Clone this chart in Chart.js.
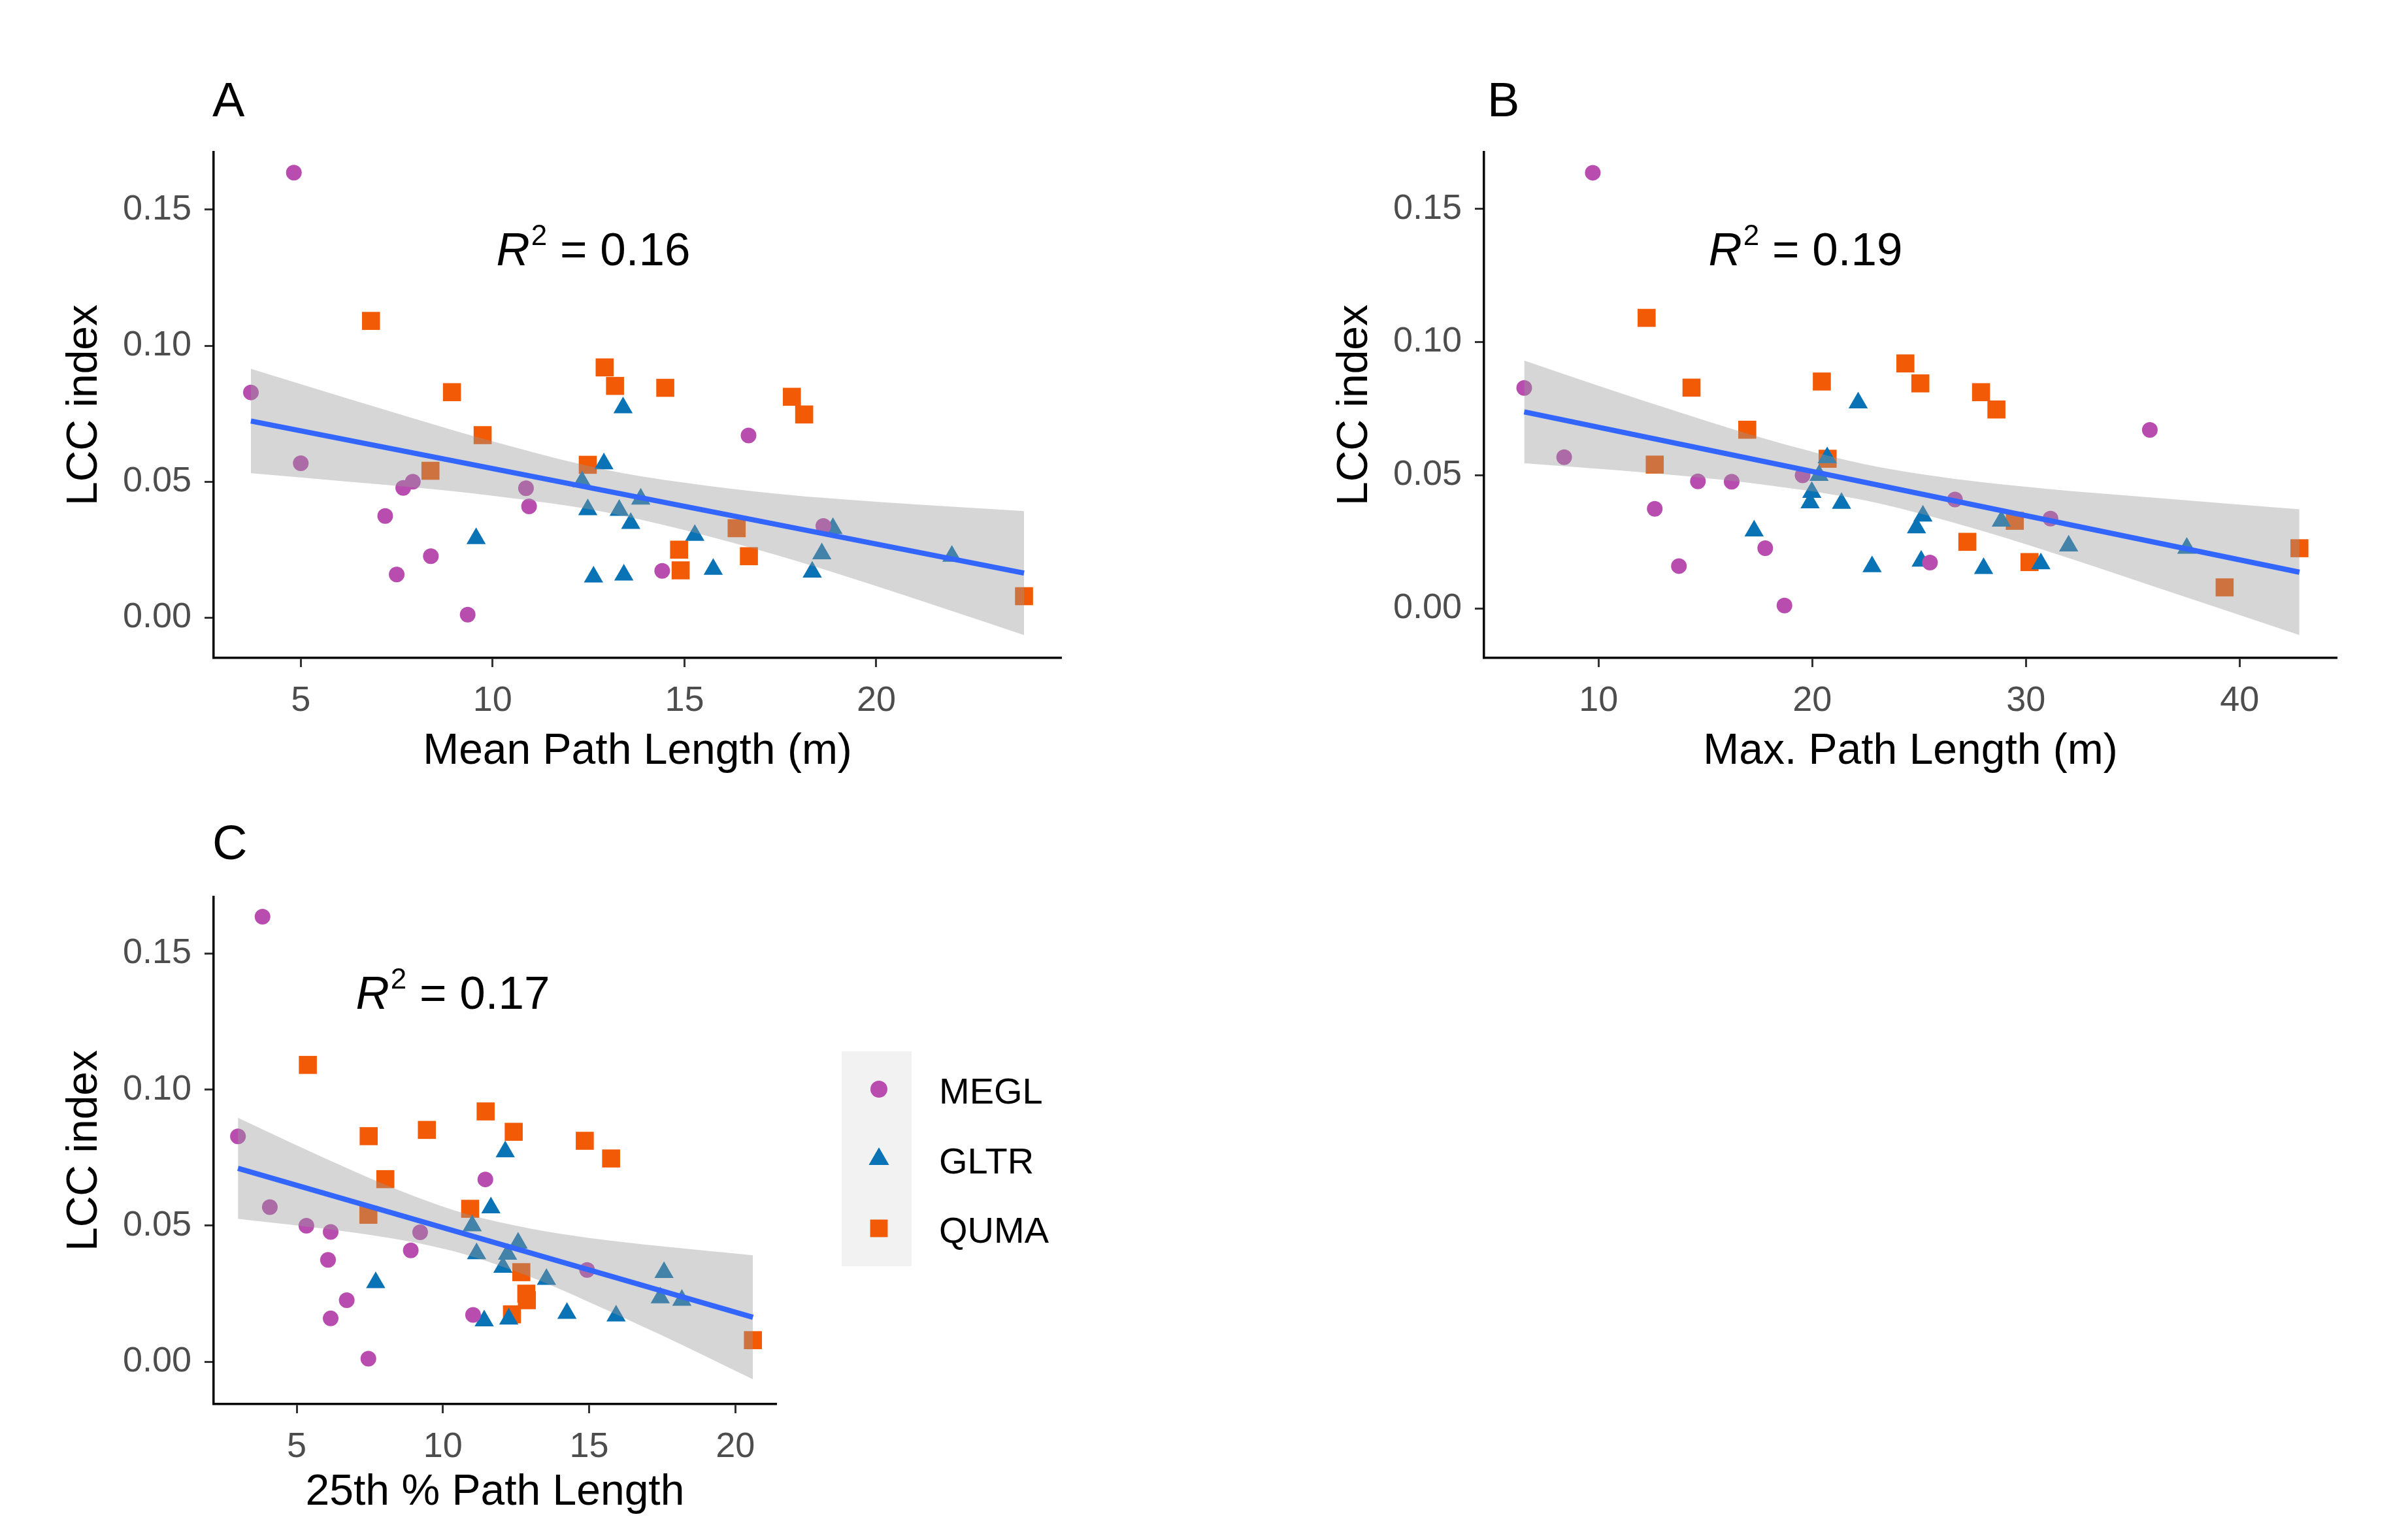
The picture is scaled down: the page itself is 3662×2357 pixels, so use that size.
<!DOCTYPE html>
<html>
<head>
<meta charset="utf-8">
<script src="https://cdn.jsdelivr.net/npm/chart.js@4.4.1/dist/chart.umd.min.js"></script>
<style>
  body { margin: 0; background: #fff; width: 3662px; height: 2357px; position: relative; overflow: hidden; }
  canvas { position: absolute; }
</style>
</head>
<body>
<canvas id="panelA" width="1664" height="1240" style="left:0px;top:0px"></canvas>
<canvas id="panelB" width="1672" height="1240" style="left:1944px;top:0px"></canvas>
<canvas id="panelC" width="1800" height="1117" style="left:0px;top:1240px"></canvas>
<script>
const FONT = '"Liberation Sans", Arial, sans-serif';

const speciesNames = ["MEGL", "GLTR", "QUMA"];
const speciesColors = ["#B94DAF", "#0A73B5", "#F25A05"];
const speciesShapes = ["circle", "triangle", "rect"];
const speciesRadius = [12, 17, 19.5];

// LCC index of each tree (same trees in every panel)
const lccMEGL = [0.1636, 0.0828, 0.0568, 0.0500, 0.0477, 0.0476, 0.0374, 0.0409, 0.0670, 0.0226, 0.0159, 0.0172, 0.0011, 0.0337];
const lccGLTR = [0.0772, 0.0566, 0.0500, 0.0436, 0.0397, 0.0395, 0.0347, 0.0291, 0.0150, 0.0157, 0.0303, 0.0178, 0.0168, 0.0235, 0.0328, 0.0226];
const lccQUMA = [0.1091, 0.0829, 0.0671, 0.0540, 0.0562, 0.0920, 0.0852, 0.0845, 0.0812, 0.0747, 0.0329, 0.0250, 0.0174, 0.0226, 0.0079];

// A: mean path length (m)
const meanMEGL = [4.82, 3.70, 5.00, 7.92, 7.67, 10.87, 7.20, 10.95, 16.67, 8.39, 7.50, 14.42, 9.35, 18.62];
const meanGLTR = [13.40, 12.90, 12.33, 13.86, 12.48, 13.30, 13.60, 9.57, 12.63, 13.42, 15.27, 15.75, 18.33, 18.58, 18.87, 21.97];
const meanQUMA = [6.83, 8.94, 9.74, 8.38, 12.48, 12.92, 13.19, 14.50, 17.80, 18.12, 16.36, 14.86, 14.90, 16.68, 23.85];

// B: max path length (m)
const maxMEGL = [9.73, 6.52, 8.39, 19.55, 14.65, 16.23, 12.63, 26.68, 35.80, 17.80, 13.76, 25.51, 18.70, 31.15];
const maxGLTR = [22.15, 20.70, 20.32, 19.98, 19.90, 21.37, 25.18, 17.28, 28.02, 22.80, 24.88, 25.10, 30.70, 32.00, 28.85, 37.53];
const maxQUMA = [12.25, 14.35, 16.96, 12.63, 20.72, 24.36, 20.45, 25.06, 27.90, 28.62, 29.48, 27.26, 30.17, 42.80, 39.30];

// C: 25th percentile path length
const p25MEGL = [3.83, 2.99, 4.08, 5.33, 6.16, 9.22, 6.07, 8.90, 11.45, 6.71, 6.16, 11.03, 7.45, 14.93];
const p25GLTR = [12.13, 11.64, 11.00, 12.57, 11.15, 12.21, 12.05, 7.70, 11.41, 12.25, 13.54, 14.24, 15.92, 17.43, 17.56, 18.17];
const p25QUMA = [5.38, 7.46, 8.03, 7.45, 10.93, 11.46, 9.45, 12.42, 14.85, 15.75, 12.68, 12.85, 12.36, 12.87, 20.60];

// fitted lines (end points) and confidence bands
const fitXA = [3.70, 23.85];
const fitYA = [0.0723, 0.0164];
const bandXA = [3.70, 6.0, 8.0, 10.0, 12.9, 15.0, 17.5, 20.0, 23.85];
const bandUpA = [0.0915, 0.0815, 0.0730, 0.0648, 0.0545, 0.0496, 0.0454, 0.0426, 0.0392];
const bandLoA = [0.0531, 0.0503, 0.0478, 0.0448, 0.0389, 0.0322, 0.0226, 0.0116, -0.0064];

const fitXB = [6.52, 42.80];
const fitYB = [0.0738, 0.0136];
const bandXB = [6.52, 10, 14, 18, 22.5, 27, 31, 36, 42.80];
const bandUpB = [0.0931, 0.0836, 0.0731, 0.0632, 0.0541, 0.0483, 0.0449, 0.0416, 0.0372];
const bandLoB = [0.0545, 0.0524, 0.0497, 0.0462, 0.0405, 0.0313, 0.0215, 0.0082, -0.0100];

const fitXC = [2.99, 20.60];
const fitYC = [0.0711, 0.0163];
const bandXC = [2.99, 5, 7, 9, 10.8, 13, 15, 17.5, 20.60];
const bandUpC = [0.0897, 0.0795, 0.0698, 0.0609, 0.0543, 0.0489, 0.0455, 0.0424, 0.0391];
const bandLoC = [0.0525, 0.0501, 0.0474, 0.0439, 0.0393, 0.0311, 0.0219, 0.0096, -0.0065];

const xTicksA = [5, 10, 15, 20];
const xTicksB = [10, 20, 30, 40];
const xTicksC = [5, 10, 15, 20];
const yTicks = [0, 0.05, 0.10, 0.15];

const lccAll = [lccMEGL, lccGLTR, lccQUMA];

function drawMarker(ctx, shape, x, y, r) {
  ctx.beginPath();
  if (shape === "circle") {
    ctx.arc(x, y, r, 0, Math.PI * 2);
  } else if (shape === "triangle") {
    for (let k = 0; k < 3; k++) {
      const a = -Math.PI / 2 + k * 2 * Math.PI / 3;
      const px = x + Math.cos(a) * r, py = y + Math.sin(a) * r;
      if (k === 0) ctx.moveTo(px, py); else ctx.lineTo(px, py);
    }
    ctx.closePath();
  } else {
    const s = r * Math.SQRT1_2;
    ctx.rect(x - s, y - s, 2 * s, 2 * s);
  }
  ctx.fill();
}

// panel letter, R^2 label and (panel C only) the legend
const panelText = {
  id: "panelText",
  afterDraw(chart, args, o) {
    const ctx = chart.ctx;
    ctx.save();
    ctx.fillStyle = "#000";
    ctx.textBaseline = "alphabetic";
    ctx.textAlign = "left";
    ctx.font = "74px " + FONT;
    ctx.fillText(o.tag, o.tagX, o.tagY);

    // R^2 = value
    const s = 71;
    ctx.font = "italic " + s + "px " + FONT;
    const wR = ctx.measureText("R").width;
    ctx.font = Math.round(s * 0.62) + "px " + FONT;
    const w2 = ctx.measureText("2").width;
    ctx.font = s + "px " + FONT;
    const rest = " = " + o.r2;
    const wRest = ctx.measureText(rest).width;
    let x = o.r2X - (wR + w2 + wRest) / 2;
    ctx.font = "italic " + s + "px " + FONT;
    ctx.fillText("R", x, o.r2Y);
    x += wR + 2;
    ctx.font = Math.round(s * 0.62) + "px " + FONT;
    ctx.fillText("2", x, o.r2Y - s * 0.44);
    x += w2;
    ctx.font = s + "px " + FONT;
    ctx.fillText(rest, x, o.r2Y);

    if (o.legend) {
      const L = o.legend;
      ctx.fillStyle = "#F2F2F2";
      ctx.fillRect(L.x, L.y, L.w, L.h);
      speciesNames.forEach((name, i) => {
        ctx.fillStyle = speciesColors[i];
        drawMarker(ctx, speciesShapes[i], L.markX, L.rows[i], [13, 18, 19][i]);
        ctx.fillStyle = "#000";
        ctx.font = "56px " + FONT;
        ctx.textBaseline = "middle";
        ctx.fillText(name, L.textX, L.rows[i] + 7);
      });
    }
    ctx.restore();
  }
};

function makePanel(id, p) {
  const datasets = speciesNames.map((name, i) => ({
    type: "scatter",
    label: name,
    data: p.xs[i].map((x, j) => ({ x: x, y: lccAll[i][j] })),
    pointStyle: speciesShapes[i],
    pointRadius: speciesRadius[i],
    pointHoverRadius: speciesRadius[i],
    backgroundColor: speciesColors[i],
    borderWidth: 0,
    order: 3
  }));
  datasets.push({
    type: "line",
    label: "ci upper",
    data: p.bandX.map((x, j) => ({ x: x, y: p.up[j] })),
    borderColor: "rgba(0,0,0,0)",
    borderWidth: 0,
    pointRadius: 0,
    cubicInterpolationMode: "monotone",
    fill: "+1",
    backgroundColor: "rgba(153,153,153,0.4)",
    order: 2
  });
  datasets.push({
    type: "line",
    label: "ci lower",
    data: p.bandX.map((x, j) => ({ x: x, y: p.lo[j] })),
    borderColor: "rgba(0,0,0,0)",
    borderWidth: 0,
    pointRadius: 0,
    cubicInterpolationMode: "monotone",
    fill: false,
    order: 2
  });
  datasets.push({
    type: "line",
    label: "fit",
    data: p.fitX.map((x, j) => ({ x: x, y: p.fitY[j] })),
    borderColor: "#3366FF",
    borderWidth: 8,
    pointRadius: 0,
    fill: false,
    order: 0
  });

  const tickGrid = { display: true, drawOnChartArea: false, drawTicks: true, tickLength: 14, tickWidth: 3, color: "#333333" };

  new Chart(document.getElementById(id), {
    type: "scatter",
    data: { datasets: datasets },
    plugins: [panelText],
    options: {
      responsive: false,
      animation: false,
      devicePixelRatio: 1,
      layout: { padding: { left: 0, top: p.padTop, right: p.padRight, bottom: 0 } },
      plugins: {
        legend: { display: false },
        tooltip: { enabled: false },
        panelText: p.text
      },
      scales: {
        x: {
          type: "linear",
          min: p.xMin,
          max: p.xMax,
          afterBuildTicks: (s) => { s.ticks = p.xTicks.map(v => ({ value: v })); },
          afterFit: (s) => { s.height = p.xAxisH; },
          grid: tickGrid,
          border: { display: true, color: "#000", width: 3.5 },
          ticks: { color: "#4D4D4D", font: { family: FONT, size: 54 }, padding: 20, maxRotation: 0, autoSkip: false },
          title: { display: true, text: p.xTitle, color: "#000", font: { family: FONT, size: 66 }, padding: { top: 0, bottom: p.xTitlePad } }
        },
        y: {
          type: "linear",
          min: p.yMin,
          max: p.yMax,
          afterBuildTicks: (s) => { s.ticks = yTicks.map(v => ({ value: v })); },
          afterFit: (s) => { s.width = 327; },
          grid: tickGrid,
          border: { display: true, color: "#000", width: 3.5 },
          ticks: { color: "#4D4D4D", font: { family: FONT, size: 54 }, padding: 20, callback: (v) => Number(v).toFixed(2) },
          title: { display: true, text: "LCC index", color: "#000", font: { family: FONT, size: 66 }, padding: { top: 90, bottom: 0 } }
        }
      }
    }
  });
}

makePanel("panelA", {
  xs: [meanMEGL, meanGLTR, meanQUMA],
  bandX: bandXA, up: bandUpA, lo: bandLoA, fitX: fitXA, fitY: fitYA,
  xMin: 2.73, xMax: 24.82, yMin: -0.0148, yMax: 0.1711, xTicks: xTicksA,
  padTop: 233, padRight: 40, xAxisH: 233, xTitlePad: 50,
  xTitle: "Mean Path Length (m)",
  text: { tag: "A", tagX: 325, tagY: 178, r2: "0.16", r2X: 907, r2Y: 406 }
});

makePanel("panelB", {
  xs: [maxMEGL, maxGLTR, maxQUMA],
  bandX: bandXB, up: bandUpB, lo: bandLoB, fitX: fitXB, fitY: fitYB,
  xMin: 4.64, xMax: 44.55, yMin: -0.0186, yMax: 0.1713, xTicks: xTicksB,
  padTop: 233, padRight: 40, xAxisH: 233, xTitlePad: 50,
  xTitle: "Max. Path Length (m)",
  text: { tag: "B", tagX: 332, tagY: 178, r2: "0.19", r2X: 818, r2Y: 406 }
});

makePanel("panelC", {
  xs: [p25MEGL, p25GLTR, p25QUMA],
  bandX: bandXC, up: bandUpC, lo: bandLoC, fitX: fitXC, fitY: fitYC,
  xMin: 2.16, xMax: 21.40, yMin: -0.0156, yMax: 0.1708, xTicks: xTicksC,
  padTop: 133, padRight: 612, xAxisH: 208, xTitlePad: 33,
  xTitle: "25th % Path Length",
  text: {
    tag: "C", tagX: 325, tagY: 75, r2: "0.17", r2X: 692, r2Y: 304,
    legend: { x: 1288, y: 369, w: 107, h: 329, markX: 1345, textX: 1437, rows: [427, 534, 640] }
  }
});
</script>
</body>
</html>
